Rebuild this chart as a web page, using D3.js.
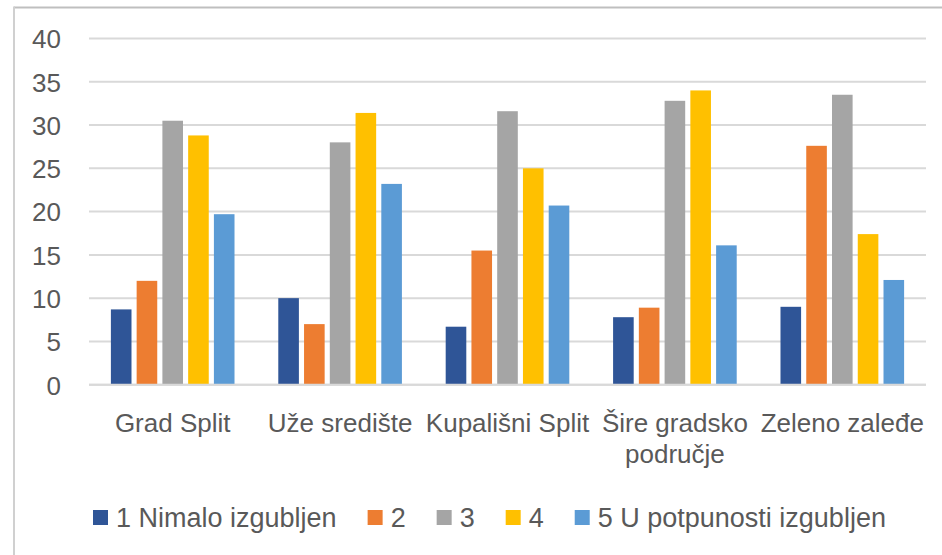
<!DOCTYPE html>
<html>
<head>
<meta charset="utf-8">
<script src="https://cdn.jsdelivr.net/npm/d3@7"></script>
<style>
  html, body { margin: 0; padding: 0; background: #fff; }
  svg { display: block; }
  text { font-family: "Liberation Sans", Arial, sans-serif; fill: #595959; }
</style>
</head>
<body>
<svg id="chart" width="942" height="555"></svg>
<script>
const categories = ["Grad Split", "Uže središte", "Kupališni Split", "Šire gradsko područje", "Zeleno zaleđe"];
const seriesNames = ["1 Nimalo izgubljen", "2", "3", "4", "5 U potpunosti izgubljen"];
const s1 = [8.7, 10.0, 6.7, 7.8, 9.0];
const s2 = [12.0, 7.0, 15.5, 8.9, 27.6];
const s3 = [30.5, 28.0, 31.6, 32.8, 33.5];
const s4 = [28.8, 31.4, 25.0, 34.0, 17.4];
const s5 = [19.7, 23.2, 20.7, 16.1, 12.1];
const yTicks = [0, 5, 10, 15, 20, 25, 30, 35, 40];
const colors = ["#2F5597", "#ED7D31", "#A5A5A5", "#FFC000", "#5B9BD5"];

const seriesValues = [s1, s2, s3, s4, s5];
const svg = d3.select("#chart");

// outer chart border (top & left visible)
svg.append("line").attr("x1", 14).attr("x2", 942).attr("y1", 7.5).attr("y2", 7.5)
  .attr("stroke", "#BFBFBF").attr("stroke-width", 2);
svg.append("line").attr("x1", 14).attr("x2", 14).attr("y1", 6.5).attr("y2", 555)
  .attr("stroke", "#D0D0D0").attr("stroke-width", 2);

const plot = { left: 89, right: 926, top: 38.5, bottom: 384.7 };

const y = d3.scaleLinear().domain([0, 40]).range([plot.bottom, plot.top]);
const x0 = d3.scaleBand().domain(categories).range([plot.left, plot.right]).padding(0);
const x1 = d3.scaleBand().domain(seriesNames).range([0, x0.bandwidth()])
  .paddingInner(0.2).paddingOuter(0.85);

// gridlines
svg.append("g").selectAll("line").data(yTicks).join("line")
  .attr("x1", plot.left).attr("x2", plot.right)
  .attr("y1", d => y(d)).attr("y2", d => y(d))
  .attr("stroke", "#D9D9D9").attr("stroke-width", 2);

// y tick labels via axis
const yAxis = d3.axisLeft(y).tickValues(yTicks).tickSize(0).tickPadding(0);
const yg = svg.append("g").attr("transform", `translate(61,0)`).call(yAxis);
yg.select(".domain").remove();
yg.selectAll("text").attr("font-size", 26).attr("font-family", "Liberation Sans, Arial, sans-serif")
  .attr("fill", "#595959").attr("dy", "0.36em");

// bars
const data = [];
categories.forEach((c, ci) => {
  seriesNames.forEach((s, si) => {
    data.push({ cat: c, ser: s, val: seriesValues[si][ci], color: colors[si] });
  });
});
svg.append("g").selectAll("rect").data(data).join("rect")
  .attr("x", d => x0(d.cat) + x1(d.ser))
  .attr("width", x1.bandwidth())
  .attr("y", d => y(d.val))
  .attr("height", d => y(0) - y(d.val))
  .attr("fill", d => d.color);

// baseline over bars
svg.append("line").attr("x1", plot.left).attr("x2", plot.right)
  .attr("y1", y(0)).attr("y2", y(0)).attr("stroke", "#D9D9D9").attr("stroke-width", 2);

// category labels (wrapped)
const catLines = {
  "Šire gradsko područje": ["Šire gradsko", "područje"]
};
const cg = svg.append("g");
categories.forEach(c => {
  const lines = catLines[c] || [c];
  const t = cg.append("text")
    .attr("x", x0(c) + x0.bandwidth() / 2)
    .attr("y", 432)
    .attr("text-anchor", "middle")
    .attr("font-size", 26);
  lines.forEach((l, i) => {
    t.append("tspan").attr("x", x0(c) + x0.bandwidth() / 2)
      .attr("dy", i === 0 ? 0 : 31).text(l);
  });
});

// legend
const lg = svg.append("g");
let lx = 93;
seriesNames.forEach((s, i) => {
  lg.append("rect").attr("x", lx).attr("y", 510).attr("width", 15).attr("height", 15)
    .attr("fill", colors[i]);
  const t = lg.append("text").attr("x", lx + 23).attr("y", 527).attr("font-size", 27).text(s);
  const w = t.node().getComputedTextLength();
  lx = lx + 23 + w + 31;
});
</script>
</body>
</html>
